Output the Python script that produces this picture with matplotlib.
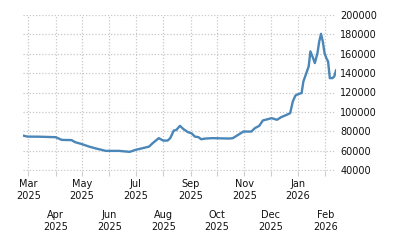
import matplotlib
matplotlib.use("Agg")
import matplotlib.pyplot as plt
import matplotlib.dates as mdates
import pandas as pd

# values
dates = [
    "2025-02-23", "2025-02-28", "2025-03-13", "2025-04-01", "2025-04-08",
    "2025-04-19", "2025-04-23", "2025-04-30", "2025-05-09", "2025-05-17",
    "2025-05-28", "2025-06-12", "2025-06-24", "2025-07-01", "2025-07-16",
    "2025-07-20", "2025-07-27", "2025-08-01", "2025-08-06", "2025-08-09",
    "2025-08-13", "2025-08-16", "2025-08-20", "2025-08-24", "2025-08-29",
    "2025-09-02", "2025-09-06", "2025-09-10", "2025-09-13", "2025-09-18",
    "2025-09-26", "2025-10-15", "2025-10-19", "2025-10-25", "2025-10-31",
    "2025-11-09", "2025-11-13", "2025-11-18", "2025-11-22", "2025-11-28",
    "2025-12-02", "2025-12-08", "2025-12-13", "2025-12-19", "2025-12-23",
    "2025-12-26", "2025-12-29", "2026-01-01", "2026-01-05", "2026-01-07",
    "2026-01-09", "2026-01-13", "2026-01-15", "2026-01-18", "2026-01-20",
    "2026-01-23", "2026-01-25", "2026-01-27", "2026-01-29", "2026-01-31",
    "2026-02-02", "2026-02-04", "2026-02-06", "2026-02-09", "2026-02-11",
    "2026-02-13",
]
values = [
    75700, 74600, 74500, 74000, 71200,
    71000, 68900, 67100, 64300, 62300,
    59900, 59900, 58900, 61000, 64300,
    67800, 73000, 70500, 70500, 73000,
    80800, 81500, 85700, 82300, 79200,
    78100, 74600, 74000, 71900, 72600,
    73000, 72600, 73000, 76400, 79800,
    79800, 83300, 85700, 91200, 92600,
    93600, 91900, 94700, 97000, 98700,
    110700, 116900, 118300, 119400, 131400,
    136500, 146800, 162300, 155400, 150300,
    160600, 172600, 180400, 172600, 160600,
    155400, 152000, 134800, 134800, 136500,
    142700,
]
y_ticks = [40000, 60000, 80000, 100000, 120000, 140000, 160000, 180000, 200000]

x = pd.to_datetime(dates)
months = pd.date_range("2025-03-01", "2026-02-01", freq="MS")

fig = plt.figure(figsize=(4, 2.5), dpi=100)
ax = fig.add_axes([0.0575, 0.318, 0.7825, 0.624])

ax.plot(x, values, color="#4a86b8", linewidth=1.7, solid_joinstyle="round")

ax.set_xlim(x[0], x[-1])
ax.set_ylim(39700, 200300)  # tiny margin so the edge gridlines are not clipped
ax.set_yticks(y_ticks)
ax.set_yticklabels([str(v) for v in y_ticks])
ax.yaxis.tick_right()
ax.tick_params(axis="y", length=0, pad=3, labelsize=7, labelcolor="#111111")

# upper row of month labels as majors, lower row as minors
major = months[0::2]
minor = months[1::2]
ax.set_xticks(mdates.date2num(major))
ax.set_xticklabels([d.strftime("%b\n%Y") for d in major])
ax.set_xticks(mdates.date2num(minor), minor=True)
ax.set_xticklabels([d.strftime("%b\n%Y") for d in minor], minor=True)
ax.tick_params(axis="x", which="both", length=3.5, width=0.8, color="#cccccc",
               labelsize=7, labelcolor="#111111")
ax.tick_params(axis="x", which="major", pad=2.5)
ax.tick_params(axis="x", which="minor", pad=25)
for lbl in ax.get_xticklabels(which="both"):
    lbl.set_linespacing(1.25)

ax.grid(True, which="both", color="#c8c8c8", linestyle=(0, (1, 1.5)), linewidth=0.9)
ax.set_axisbelow(True)
for sp in ax.spines.values():
    sp.set_visible(False)

fig.savefig("out.png", dpi=100)
